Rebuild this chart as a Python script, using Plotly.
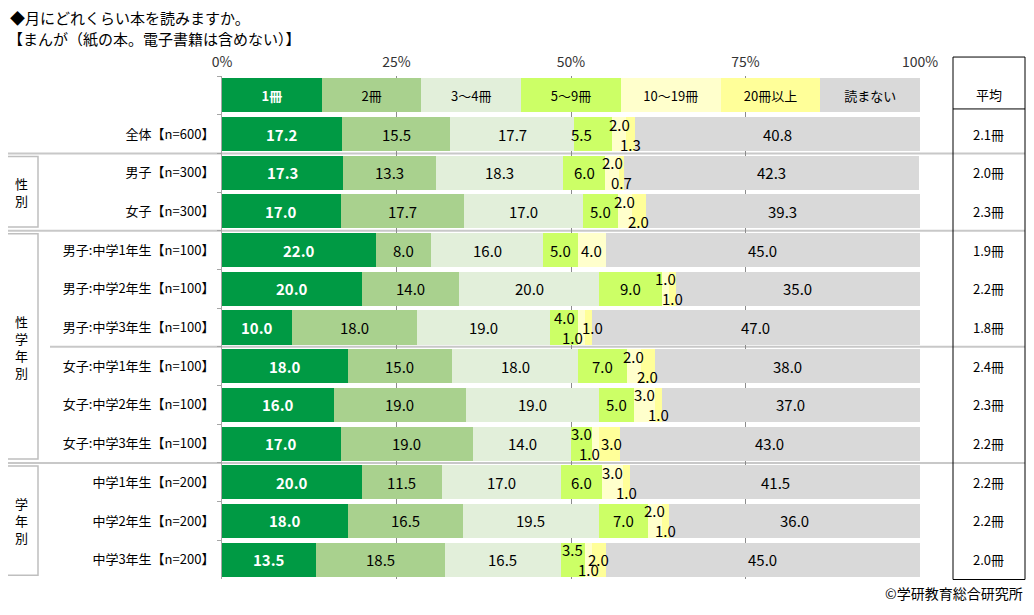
import plotly.graph_objects as go

# categories (stack order, left to right)
categories = ["1冊", "2冊", "3～4冊", "5～9冊", "10～19冊", "20冊以上", "読まない"]
colors = ["#009A44", "#A9D18E", "#E2EFDA", "#CCFF66", "#FFFFCC", "#FFFF99", "#D9D9D9"]

rows = [
    "全体【n=600】",
    "男子【n=300】",
    "女子【n=300】",
    "男子:中学1年生【n=100】",
    "男子:中学2年生【n=100】",
    "男子:中学3年生【n=100】",
    "女子:中学1年生【n=100】",
    "女子:中学2年生【n=100】",
    "女子:中学3年生【n=100】",
    "中学1年生【n=200】",
    "中学2年生【n=200】",
    "中学3年生【n=200】",
]

# series values (%)
one_book = [17.2, 17.3, 17.0, 22.0, 20.0, 10.0, 18.0, 16.0, 17.0, 20.0, 18.0, 13.5]
two_books = [15.5, 13.3, 17.7, 8.0, 14.0, 18.0, 15.0, 19.0, 19.0, 11.5, 16.5, 18.5]
three_four = [17.7, 18.3, 17.0, 16.0, 20.0, 19.0, 18.0, 19.0, 14.0, 17.0, 19.5, 16.5]
five_nine = [5.5, 6.0, 5.0, 5.0, 9.0, 4.0, 7.0, 5.0, 3.0, 6.0, 7.0, 3.5]
ten_nineteen = [2.0, 2.0, 2.0, 4.0, 1.0, 1.0, 2.0, 3.0, 1.0, 3.0, 2.0, 1.0]
twenty_plus = [1.3, 0.7, 2.0, 0.0, 1.0, 1.0, 2.0, 1.0, 3.0, 1.0, 1.0, 2.0]
not_read = [40.8, 42.3, 39.3, 45.0, 35.0, 47.0, 38.0, 37.0, 43.0, 41.5, 36.0, 45.0]

averages = ["2.1冊", "2.0冊", "2.3冊", "1.9冊", "2.2冊", "1.8冊",
            "2.4冊", "2.3冊", "2.2冊", "2.2冊", "2.2冊", "2.0冊"]

# left-hand group boxes: label, first row, last row
groups = [("性<br>別", "男子【n=300】", "女子【n=300】"),
          ("性<br>学<br>年<br>別", "男子:中学1年生【n=100】", "女子:中学3年生【n=100】"),
          ("学<br>年<br>別", "中学1年生【n=200】", "中学3年生【n=200】")]

series = [one_book, two_books, three_four, five_nine, ten_nineteen, twenty_plus, not_read]

# label nudges (px) for the thin segments: (row, category) -> (dx, dy)
nudges = {(0, 3): (-11, 0), (3, 4): (0, 0),
          (5, 3): (0, 10), (5, 4): (-9, -10), (5, 5): (4, 0),
          (8, 3): (0, 10), (8, 4): (-6, -10), (8, 5): (2, 0),
          (11, 3): (0, 10), (11, 4): (0, -10), (11, 5): (0, 0)}

FONT = "Noto Sans CJK JP, Noto Sans, sans-serif"
HEADER = " "
ycats = [HEADER] + rows

fig = go.Figure()

# header row doubles as the legend
for i, cat in enumerate(categories):
    fig.add_trace(go.Bar(
        y=[HEADER], x=[100 / len(categories)], orientation="h",
        marker=dict(color=colors[i], line=dict(width=0)),
        text=["<b>%s</b>" % cat if i == 0 else cat], textposition="inside",
        insidetextanchor="middle",
        textfont=dict(family=FONT, size=13, color="white" if i == 0 else "#000"),
        hoverinfo="skip", showlegend=False,
    ))

for i, cat in enumerate(categories):
    fig.add_trace(go.Bar(
        y=rows, x=series[i], orientation="h", name=cat,
        marker=dict(color=colors[i], line=dict(width=0)),
        showlegend=False,
    ))

# value labels
for r, row in enumerate(rows):
    start = 0
    for c in range(len(categories)):
        v = series[c][r]
        mid = start + v / 2
        start += v
        if v == 0:
            continue
        if c in (4, 5):
            dx, dy = nudges.get((r, c), (0, 10 if c == 4 else -10))
        else:
            dx, dy = nudges.get((r, c), (0, 0))
        fig.add_annotation(
            x=mid, y=row, text=("<b>%.1f</b>" % v) if c == 0 else "%.1f" % v,
            showarrow=False, xshift=dx, yshift=dy, xanchor="center",
            font=dict(family=FONT, size=15, color="white" if c == 0 else "#000"),
        )

# page pixel -> paper (plot area spans page x 222..920)
def px_to_paper(px):
    return (px - 222) / 698

# separators between groups
for b, x0 in [(1.5, 3), (3.5, 3), (6.5, 50), (9.5, 3)]:
    fig.add_shape(type="line", xref="paper", yref="y",
                  x0=px_to_paper(x0), x1=px_to_paper(1025), y0=b, y1=b,
                  line=dict(color="#C8C8C8", width=2), layer="below")

# group boxes on the left
for label, first, last in groups:
    i0, i1 = ycats.index(first), ycats.index(last)
    fig.add_shape(type="rect", xref="paper", yref="y",
                  x0=px_to_paper(5), x1=px_to_paper(38),
                  y0=i0 - 0.5 + 0.08, y1=i1 + 0.5 - 0.1,
                  line=dict(color="#BFBFBF", width=1.5))
    fig.add_annotation(xref="paper", yref="y", x=px_to_paper(21.5),
                       y=(i0 + i1) / 2, text=label, showarrow=False,
                       xanchor="center", yanchor="middle",
                       font=dict(family=FONT, size=13, color="#000"))

# averages table on the right
fig.add_shape(type="rect", xref="paper", yref="paper",
              x0=px_to_paper(953), x1=px_to_paper(1025), y0=-0.001, y1=1.0377,
              line=dict(color="#000", width=1))
fig.add_shape(type="line", xref="paper", yref="paper",
              x0=px_to_paper(953), x1=px_to_paper(1025), y0=0.9345, y1=0.9345,
              line=dict(color="#000", width=1))
fig.add_annotation(xref="paper", yref="paper", x=px_to_paper(989), y=0.986,
                   text="平均", showarrow=False, xanchor="center",
                   font=dict(family=FONT, size=13, color="#000"))
for row, avg in zip(rows, averages):
    fig.add_annotation(xref="paper", yref="y", x=px_to_paper(989), y=row,
                       text=avg, showarrow=False, xanchor="center",
                       font=dict(family=FONT, size=13, color="#000"))

# titles and credit
fig.add_annotation(xref="paper", yref="paper", x=px_to_paper(8), y=1.0,
                   yshift=59, xanchor="left", yanchor="middle",
                   text="◆月にどれくらい本を読みますか。", showarrow=False,
                   font=dict(family=FONT, size=15, color="#000"))
fig.add_annotation(xref="paper", yref="paper", x=px_to_paper(6), y=1.0,
                   yshift=38, xanchor="left", yanchor="middle",
                   text="【まんが（紙の本。電子書籍は含めない）】", showarrow=False,
                   font=dict(family=FONT, size=15, color="#000"))
fig.add_annotation(xref="paper", yref="paper", x=px_to_paper(1025), y=0,
                   yshift=-14, xanchor="right", yanchor="middle",
                   text="©学研教育総合研究所", showarrow=False,
                   font=dict(family=FONT, size=14, color="#000"))

# the page body adds an 8px margin, so the figure is drawn 16px smaller
fig.update_layout(
    width=1018, height=599,
    margin=dict(l=214, r=106, t=68, b=28),
    barmode="stack", bargap=0.12,
    plot_bgcolor="white", paper_bgcolor="white",
    font=dict(family=FONT, size=13, color="#000"),
    xaxis=dict(range=[0, 100], side="top", tickvals=[0, 25, 50, 75, 100],
               ticktext=["0%", "25%", "50%", "75%", "100%"],
               showgrid=True, gridcolor="#8C8C8C", gridwidth=1,
               zeroline=False, showline=False, ticks="",
               ticklabelstandoff=5,
               tickfont=dict(family=FONT, size=14, color="#333")),
    yaxis=dict(categoryorder="array", categoryarray=ycats, range=[12.5, -0.5],
               showline=True, linecolor="#A6A6A6", linewidth=1,
               ticks="outside", tickson="boundaries", ticklen=4,
               tickcolor="#A6A6A6", ticklabelstandoff=4,
               tickfont=dict(family=FONT, size=13, color="#000")),
)

fig.write_html("out.html")
